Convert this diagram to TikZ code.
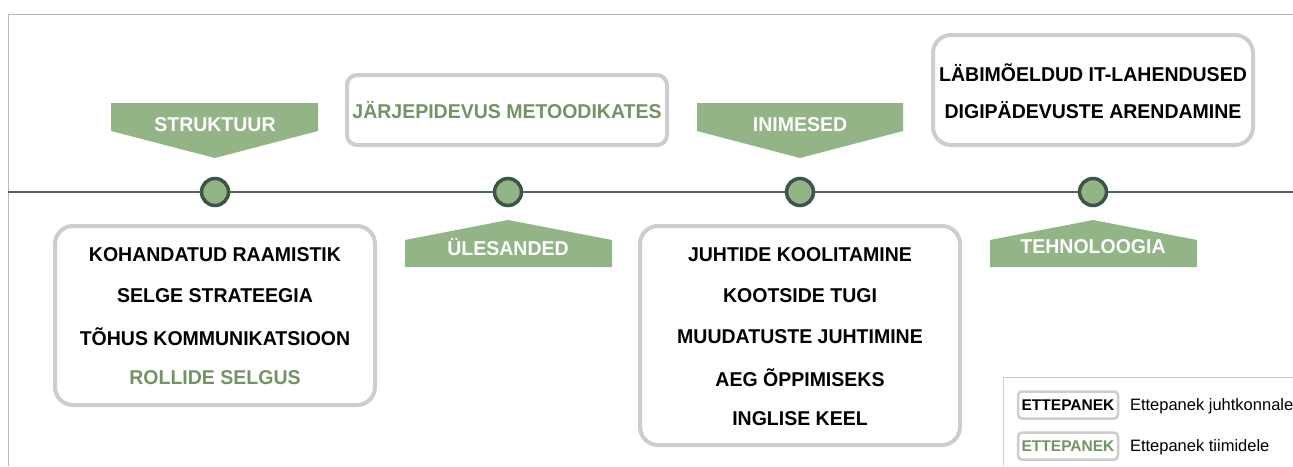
\documentclass[tikz,border=0pt]{standalone}
\usepackage{fontspec}
\setmainfont{Liberation Sans}
\newfontfamily\labelfont[FakeStretch=0.975]{Liberation Sans}
\begin{document}
\begin{tikzpicture}[x=1pt,y=-1pt,
  every node/.style={inner sep=0pt,outer sep=0pt},
  lbl/.style={font=\labelfont\fontsize{20}{21}\selectfont\bfseries,text=black},
  lblgreen/.style={lbl,text=leafgreen},
  bannertext/.style={lbl,text=white},
  card/.style={draw=cardgray,line width=4pt,fill=white,rounded corners=18pt},
  smallcard/.style={draw=cardgray,line width=4pt,fill=white,rounded corners=10pt},
  banner/.style={fill=sage,draw=none},
  dot/.style={circle,fill=sage,draw=darkslate,line width=3.5pt,minimum size=27pt},
  axis/.style={draw=axisgreen,line width=2.5pt},
  frame/.style={draw=framegray,line width=0.8pt},
  legendkey/.style={draw=cardgray,line width=2.5pt,rounded corners=4pt,fill=white,
    minimum width=100pt,minimum height=27pt,font=\fontsize{15.5}{16}\selectfont\bfseries},
  legendtext/.style={font=\fontsize{16.5}{17}\selectfont,anchor=west}
]
\definecolor{sage}{HTML}{93B487}
\definecolor{leafgreen}{HTML}{739367}
\definecolor{darkslate}{HTML}{3D5449}
\definecolor{axisgreen}{HTML}{4C675B}
\definecolor{cardgray}{HTML}{CDCDCD}
\definecolor{framegray}{HTML}{B9B9B9}

\useasboundingbox (0,0) rectangle (1293,466);

% outer frame
\coordinate (frameTR) at (1293,14);
\coordinate (frameTL) at (8,14);
\coordinate (frameBL) at (8,466);
\draw[frame] (frameTR) -- (frameTL) -- (frameBL);

% timeline
\coordinate (axisL) at (8,192);
\coordinate (axisR) at (1293,192);
\draw[axis] (axisL) -- (axisR);

% milestones
\node[dot] (m1) at (215,192) {};
\node[dot] (m2) at (508,192) {};
\node[dot] (m3) at (800,192) {};
\node[dot] (m4) at (1093,192) {};

% banners pointing down to the line
\fill[banner] (111,103) -- (318,103) -- (318,131) -- (215,158) -- (111,131) -- cycle;
\node[bannertext] (struktuur) at (215,125) {STRUKTUUR};
\fill[banner] (697,103) -- (903,103) -- (903,131) -- (800,158) -- (697,131) -- cycle;
\node[bannertext] (inimesed) at (800,125) {INIMESED};

% banners pointing up to the line
\fill[banner] (405,240) -- (508,220) -- (612,240) -- (612,267) -- (405,267) -- cycle;
\node[bannertext] (ylesanded) at (508,247) {ÜLESANDED};
\fill[banner] (990,240) -- (1093,220) -- (1197,240) -- (1197,267) -- (990,267) -- cycle;
\node[bannertext] (tehnoloogia) at (1093,247) {TEHNOLOOGIA};

% upper cards
\draw[smallcard] (347,75) rectangle (667,145);
\node[lblgreen] (jarj) at (507,110) {JÄRJEPIDEVUS METOODIKATES};

\draw[card] (933,35) rectangle (1253,145);
\node[lbl] (it) at (1093,73) {LÄBIMÕELDUD IT-LAHENDUSED};
\node[lbl] (digi) at (1093,110) {DIGIPÄDEVUSTE ARENDAMINE};

% lower cards
\draw[card] (55,226) rectangle (375,405);
\node[lbl] (s1) at (215,255) {KOHANDATUD RAAMISTIK};
\node[lbl] (s2) at (215,296) {SELGE STRATEEGIA};
\node[lbl] (s3) at (215,337) {TÕHUS KOMMUNIKATSIOON};
\node[lblgreen] (s4) at (215,378) {ROLLIDE SELGUS};

\draw[card] (640,226) rectangle (960,445);
\node[lbl] (p1) at (800,255) {JUHTIDE KOOLITAMINE};
\node[lbl] (p2) at (800,296) {KOOTSIDE TUGI};
\node[lbl] (p3) at (800,337) {MUUDATUSTE JUHTIMINE};
\node[lbl] (p4) at (800,378) {AEG ÕPPIMISEKS};
\node[lbl] (p5) at (800,419) {INGLISE KEEL};

% legend
\coordinate (legTR) at (1293,377);
\coordinate (legTL) at (1003,377);
\coordinate (legBL) at (1003,466);
\draw[frame,draw=cardgray] (legTR) -- (legTL) -- (legBL);
\node[legendkey,text=black] (key1) at (1068,405) {ETTEPANEK};
\node[legendtext] (key1t) at (1130,406) {Ettepanek juhtkonnale};
\node[legendkey,text=leafgreen] (key2) at (1068,446) {ETTEPANEK};
\node[legendtext] (key2t) at (1130,447) {Ettepanek tiimidele};
\end{tikzpicture}
\end{document}
